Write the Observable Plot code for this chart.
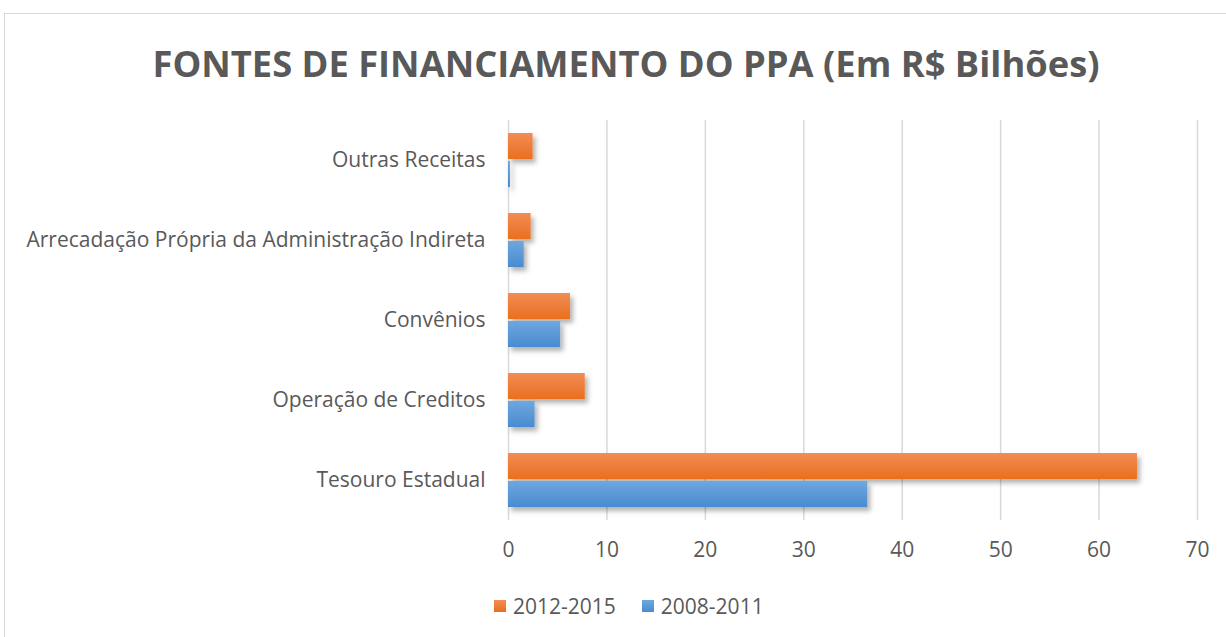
<!DOCTYPE html>
<html>
<head>
<meta charset="utf-8">
<script src="https://cdn.jsdelivr.net/npm/d3@7"></script>
<script src="https://cdn.jsdelivr.net/npm/@observablehq/plot@0.6"></script>
<style>
  html, body { margin: 0; padding: 0; background: #fff; overflow: hidden; }
  body { width: 1226px; height: 637px; position: relative; font-family: "Open Sans", sans-serif; color: #595959; }
  #frame { position: absolute; left: 4px; top: 13px; width: 1260px; height: 660px; border: 1.5px solid #d9d9d9; box-sizing: border-box; }
  #title { position: absolute; left: 0; width: 1252px; top: 45px; text-align: center; font-size: 36.3px; font-weight: 700; line-height: 1; color: #595959; white-space: nowrap; }
  #chart { position: absolute; left: 0; top: 100px; }
  #legend { position: absolute; top: 592px; left: 494px; display: flex; align-items: center; font-size: 21px; line-height: 28px; color: #595959; }
  .sw { display: inline-block; width: 12px; height: 12px; margin-right: 7px; }
  .item { display: flex; align-items: center; margin-right: 26px; }
</style>
</head>
<body>
<div id="frame"></div>
<div id="title">FONTES DE FINANCIAMENTO DO PPA (Em R$ Bilhões)</div>
<div id="chart"></div>
<div id="legend"></div>
<script>
const categories = ["Outras Receitas", "Arrecadação Própria da Administração Indireta", "Convênios", "Operação de Creditos", "Tesouro Estadual"];
const series = ["2012-2015", "2008-2011"];
const values2012_2015 = [2.5, 2.3, 6.3, 7.8, 63.9];
const values2008_2011 = [0.2, 1.6, 5.3, 2.7, 36.5];
const xTicks = [0, 10, 20, 30, 40, 50, 60, 70];
const colors = {"2012-2015": "#ED7D31", "2008-2011": "#5B9BD5"};

const rows = [];
categories.forEach((c, i) => {
  rows.push({category: c, series: series[0], value: values2012_2015[i]});
  rows.push({category: c, series: series[1], value: values2008_2011[i]});
});

const plot = Plot.plot({
  width: 1226,
  height: 480,
  marginTop: 20,
  marginBottom: 60,
  marginLeft: 508,
  marginRight: 29,
  style: {fontFamily: "'Open Sans', sans-serif", fontSize: "21px", color: "#595959", background: "transparent", overflow: "visible"},
  x: {domain: [0, 70], ticks: xTicks, tickSize: 0, label: null, grid: false},
  y: {domain: categories, padding: 0, tickSize: 0, label: null},
  marks: [
    Plot.gridX(xTicks, {stroke: "#d9d9d9", strokeOpacity: 1, strokeWidth: 1.5}),
    Plot.barX(rows.filter(d => d.series === series[0]), {
      x: "value", y: "category", fill: "url(#gradO)", insetTop: 27, insetBottom: 27, dy: -14
    }),
    Plot.barX(rows.filter(d => d.series === series[1]), {
      x: "value", y: "category", fill: "url(#gradB)", insetTop: 27, insetBottom: 27, dy: 14
    }),
    Plot.axisX(xTicks, {tickSize: 0, tickPadding: 22, fontSize: 21}),
    Plot.axisY({tickSize: 0, tickPadding: 23, fontSize: 21})
  ]
});

// gradient + shadow defs
const ns = "http://www.w3.org/2000/svg";
const defs = document.createElementNS(ns, "defs");
defs.innerHTML = `
  <linearGradient id="gradO" x1="0" y1="0" x2="0" y2="1">
    <stop offset="0" stop-color="#F28D55"/>
    <stop offset="1" stop-color="#E96F1E"/>
  </linearGradient>
  <linearGradient id="gradB" x1="0" y1="0" x2="0" y2="1">
    <stop offset="0" stop-color="#6DA8DE"/>
    <stop offset="1" stop-color="#4A8BD0"/>
  </linearGradient>
  <filter id="shadow" x="-10%" y="-50%" width="130%" height="250%">
    <feDropShadow dx="3" dy="4" stdDeviation="2.5" flood-color="#000" flood-opacity="0.3"/>
  </filter>`;
plot.insertBefore(defs, plot.firstChild);
plot.querySelectorAll('g[aria-label="bar"]').forEach(g => g.setAttribute("filter", "url(#shadow)"));
document.getElementById("chart").appendChild(plot);

const legend = document.getElementById("legend");
series.forEach(s => {
  const item = document.createElement("div");
  item.className = "item";
  const sw = document.createElement("span");
  sw.className = "sw";
  sw.style.background = s === series[0] ? "linear-gradient(#F28D55,#E96F1E)" : "linear-gradient(#6DA8DE,#4A8BD0)";
  item.appendChild(sw);
  item.appendChild(document.createTextNode(s));
  legend.appendChild(item);
});
</script>
</body>
</html>
